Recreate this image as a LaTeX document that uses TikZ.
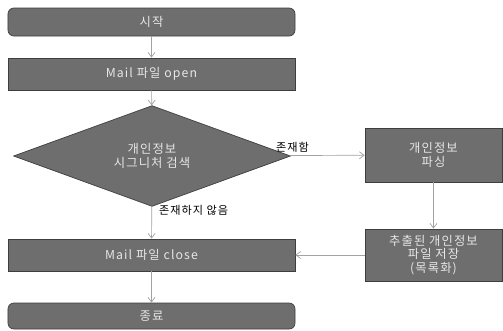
\documentclass[tikz,border=0pt]{standalone}
\usepackage{fontspec}
\setmainfont{Noto Sans CJK KR}[LetterSpace=9]
\usepackage{xcolor}
\usetikzlibrary{arrows.meta,shapes.geometric}

\definecolor{boxfill}{HTML}{6E6E6E}
\definecolor{boxline}{HTML}{3E3E3E}
\definecolor{boxtext}{HTML}{E6E6E6}
\definecolor{linegray}{HTML}{A2A2A2}

\begin{document}
\begin{tikzpicture}[
  x=0.03cm, y=-0.03cm,
  box/.style={rectangle, minimum width=8.61cm, minimum height=0.96cm,
              draw=boxline, fill=boxfill, text=boxtext, semithick,
              font=\fontsize{10.5}{11.5}\selectfont, align=center, inner sep=0pt},
  term/.style={box, rounded corners=5pt, minimum height=0.84cm},
  gate/.style={diamond, minimum width=8.31cm, minimum height=2.58cm, inner sep=0pt,
               draw=boxline, fill=boxfill, text=boxtext, semithick,
               font=\fontsize{10.5}{11.5}\selectfont, align=center},
  side/.style={box, minimum width=4.11cm, minimum height=1.6cm},
  lbl/.style={font=\fontsize{9.5}{10}\selectfont, text=black, inner sep=2pt},
  arrow/.style={-{Straight Barb[length=4pt, width=6pt]}, draw=linegray, semithick}
]
\useasboundingbox (0,0) rectangle (503,330);

% Start / end
\node[term] (start) at (151.5,22) {시작};
\node[term, minimum height=0.78cm] (finish) at (151.5,316) {종료};

% Main flow
\node[box] (open) at (151.5,74) {Mail 파일 open};
\node[gate] (check) at (152,156) {개인정보\\시그니처 검색};
\node[box] (close) at (151.5,255) {Mail 파일 close};

% Side branch
\node[side, minimum height=1.62cm] (parse) at (433.5,155) {개인정보\\파싱};
\node[side, minimum height=1.56cm] (save) at (433.5,255) {추출된 개인정보\\파일 저장\\(목록화)};

% Arrows
\draw[arrow] (start) -- (open);
\draw[arrow] (open) -- (check);
\draw[arrow] (check) -- node[lbl, pos=0.04, above] {존재함} (parse);
\draw[arrow] (check) -- node[lbl, pos=0.12, right=4pt] {존재하지 않음} (close);
\draw[arrow] (parse) -- (save);
\draw[arrow] (save) -- (close);
\draw[arrow] (close) -- (finish);

\end{tikzpicture}
\end{document}
